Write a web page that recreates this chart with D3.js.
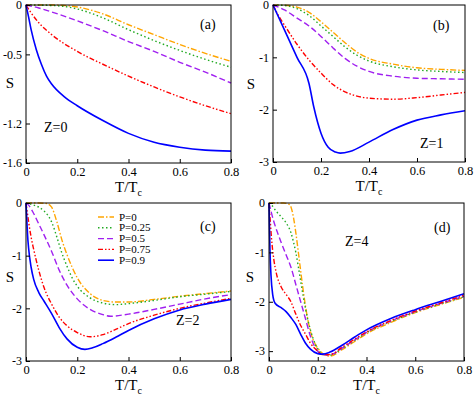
<!DOCTYPE html>
<html>
<head>
<meta charset="utf-8">
<script src="https://cdn.jsdelivr.net/npm/d3@7"></script>
<style>
  body { margin: 0; background: #fff; }
  text { font-family: "Liberation Serif", "Times New Roman", serif; fill: #000; }
</style>
</head>
<body>
<div id="chart"></div>
<script>
// legend entries / series order
let pLabels = ["P=0", "P=0.25", "P=0.5", "P=0.75", "P=0.9"];
let colors = ["#ffa500", "#22aa22", "#a020f0", "#ff0000", "#0000ff"];
let dashes = ["6,2,1.5,2", "1.5,2.5", "6,3", "5,2,1.5,2,1.5,2", null];

// panel (a) Z=0, [T/Tc, S]
let a_p0 = [[0,0],[0.1,0],[0.15,-0.005],[0.2,-0.02],[0.3,-0.09],[0.4,-0.2],[0.5,-0.3],[0.6,-0.4],[0.7,-0.49],[0.8,-0.57]];
let a_p25 = [[0,0],[0.1,-0.005],[0.15,-0.015],[0.2,-0.04],[0.3,-0.13],[0.4,-0.25],[0.5,-0.36],[0.6,-0.46],[0.7,-0.55],[0.8,-0.63]];
let a_p50 = [[0,0],[0.05,-0.03],[0.1,-0.07],[0.2,-0.16],[0.3,-0.26],[0.4,-0.37],[0.5,-0.47],[0.6,-0.58],[0.7,-0.68],[0.8,-0.79]];
let a_p75 = [[0,0],[0.02,-0.08],[0.05,-0.18],[0.1,-0.3],[0.2,-0.47],[0.3,-0.6],[0.4,-0.72],[0.5,-0.83],[0.6,-0.93],[0.7,-1.02],[0.8,-1.1]];
let a_p90 = [[0,0],[0.01,-0.12],[0.02,-0.25],[0.04,-0.45],[0.06,-0.6],[0.08,-0.72],[0.1,-0.8],[0.15,-0.93],[0.2,-1.02],[0.3,-1.17],[0.4,-1.3],[0.5,-1.39],[0.6,-1.44],[0.7,-1.47],[0.8,-1.48]];

// panel (b) Z=1
let b_p0 = [[0,0],[0.05,-0.005],[0.1,-0.04],[0.15,-0.14],[0.2,-0.32],[0.25,-0.52],[0.3,-0.72],[0.35,-0.9],[0.4,-1.02],[0.5,-1.13],[0.6,-1.2],[0.7,-1.23],[0.8,-1.25]];
let b_p25 = [[0,0],[0.05,-0.01],[0.1,-0.07],[0.15,-0.2],[0.2,-0.4],[0.25,-0.6],[0.3,-0.8],[0.35,-0.96],[0.4,-1.07],[0.5,-1.18],[0.6,-1.24],[0.7,-1.27],[0.8,-1.29]];
let b_p50 = [[0,0],[0.05,-0.1],[0.1,-0.25],[0.15,-0.4],[0.2,-0.6],[0.25,-0.82],[0.3,-1.02],[0.35,-1.17],[0.4,-1.27],[0.5,-1.36],[0.6,-1.4],[0.7,-1.41],[0.8,-1.42]];
let b_p75 = [[0,0],[0.02,-0.18],[0.05,-0.4],[0.1,-0.75],[0.15,-1.05],[0.2,-1.3],[0.25,-1.52],[0.3,-1.66],[0.35,-1.74],[0.4,-1.78],[0.5,-1.8],[0.6,-1.77],[0.7,-1.72],[0.8,-1.67]];
let b_p90 = [[0,0],[0.05,-0.5],[0.1,-1.0],[0.15,-1.5],[0.17,-1.95],[0.2,-2.45],[0.23,-2.72],[0.26,-2.81],[0.28,-2.83],[0.32,-2.8],[0.4,-2.62],[0.5,-2.38],[0.6,-2.2],[0.7,-2.1],[0.8,-2.02]];

// panel (c) Z=2
let c_p0 = [[0,0],[0.05,0],[0.08,-0.01],[0.1,-0.08],[0.12,-0.35],[0.14,-0.7],[0.16,-0.98],[0.18,-1.22],[0.2,-1.42],[0.25,-1.72],[0.3,-1.85],[0.35,-1.88],[0.4,-1.88],[0.5,-1.83],[0.6,-1.77],[0.7,-1.72],[0.8,-1.67]];
let c_p25 = [[0,0],[0.03,-0.04],[0.05,-0.08],[0.07,-0.15],[0.1,-0.36],[0.12,-0.64],[0.14,-0.95],[0.16,-1.2],[0.18,-1.42],[0.2,-1.58],[0.25,-1.8],[0.3,-1.9],[0.35,-1.93],[0.4,-1.91],[0.5,-1.85],[0.6,-1.78],[0.7,-1.73],[0.8,-1.68]];
let c_p50 = [[0,0],[0.01,-0.04],[0.03,-0.2],[0.05,-0.4],[0.07,-0.6],[0.1,-0.92],[0.13,-1.28],[0.16,-1.56],[0.2,-1.82],[0.25,-2.02],[0.3,-2.12],[0.33,-2.15],[0.4,-2.11],[0.5,-2.02],[0.6,-1.92],[0.7,-1.82],[0.8,-1.74]];
let c_p75 = [[0,0],[0.01,-0.35],[0.02,-0.65],[0.03,-0.88],[0.05,-1.28],[0.07,-1.6],[0.1,-1.92],[0.13,-2.17],[0.16,-2.33],[0.2,-2.46],[0.25,-2.54],[0.3,-2.5],[0.35,-2.4],[0.4,-2.29],[0.5,-2.13],[0.6,-2.0],[0.7,-1.9],[0.8,-1.81]];
let c_p90 = [[0,0],[0.003,-0.3],[0.006,-0.6],[0.01,-0.85],[0.02,-1.22],[0.03,-1.45],[0.05,-1.7],[0.07,-1.86],[0.1,-2.1],[0.13,-2.37],[0.16,-2.58],[0.2,-2.74],[0.23,-2.78],[0.26,-2.75],[0.3,-2.67],[0.35,-2.55],[0.4,-2.42],[0.5,-2.2],[0.6,-2.03],[0.7,-1.92],[0.8,-1.83]];

// panel (d) Z=4
let d_p0 = [[0,0],[0.06,0],[0.08,-0.02],[0.09,-0.08],[0.1,-0.28],[0.11,-0.6],[0.12,-0.98],[0.13,-1.38],[0.14,-1.76],[0.15,-2.1],[0.16,-2.38],[0.17,-2.6],[0.19,-2.86],[0.21,-3.0],[0.23,-3.08],[0.25,-3.1],[0.3,-2.97],[0.35,-2.81],[0.4,-2.65],[0.5,-2.42],[0.6,-2.22],[0.7,-2.06],[0.8,-1.91]];
let d_p25 = [[0,0],[0.01,-0.04],[0.03,-0.17],[0.05,-0.28],[0.07,-0.4],[0.09,-0.6],[0.1,-0.78],[0.11,-1.0],[0.12,-1.28],[0.13,-1.58],[0.14,-1.88],[0.15,-2.14],[0.16,-2.38],[0.17,-2.57],[0.19,-2.86],[0.21,-3.02],[0.23,-3.08],[0.25,-3.08],[0.3,-2.95],[0.35,-2.79],[0.4,-2.63],[0.5,-2.4],[0.6,-2.21],[0.7,-2.05],[0.8,-1.9]];
let d_p50 = [[0,0],[0.005,-0.1],[0.01,-0.2],[0.02,-0.38],[0.035,-0.6],[0.05,-0.8],[0.07,-1.05],[0.09,-1.3],[0.11,-1.65],[0.13,-2.0],[0.15,-2.35],[0.17,-2.7],[0.19,-2.93],[0.21,-3.04],[0.24,-3.08],[0.27,-3.04],[0.3,-2.94],[0.35,-2.78],[0.4,-2.62],[0.5,-2.39],[0.6,-2.2],[0.7,-2.04],[0.8,-1.89]];
let d_p75 = [[0,0],[0.005,-0.35],[0.01,-0.7],[0.02,-1.15],[0.03,-1.42],[0.05,-1.7],[0.07,-1.85],[0.09,-2.0],[0.11,-2.25],[0.13,-2.48],[0.15,-2.66],[0.17,-2.84],[0.2,-3.0],[0.22,-3.07],[0.25,-3.07],[0.3,-2.92],[0.35,-2.76],[0.4,-2.61],[0.5,-2.38],[0.6,-2.19],[0.7,-2.03],[0.8,-1.87]];
let d_p90 = [[0,0],[0.002,-0.5],[0.004,-0.95],[0.008,-1.45],[0.015,-1.85],[0.025,-2.03],[0.05,-2.12],[0.07,-2.2],[0.09,-2.32],[0.11,-2.46],[0.13,-2.66],[0.15,-2.84],[0.17,-2.96],[0.2,-3.05],[0.22,-3.06],[0.25,-3.02],[0.3,-2.88],[0.35,-2.72],[0.4,-2.57],[0.5,-2.34],[0.6,-2.16],[0.7,-2.0],[0.8,-1.84]];

let xTicks = [0, 0.2, 0.4, 0.6, 0.8];
let yTicksA = [0, -0.5, -1.2, -1.6];
let yTicksB = [0, -1, -2, -3];
let yTicksC = [0, -1, -2, -3];
let yTicksD = [0, -1, -2, -3];

let width = 474, height = 398;
let serif = "'Liberation Serif', 'Times New Roman', serif";

let panels = [
  {box: [26, 5, 231, 163], ydom: [-1.6, 0], yticks: yTicksA, series: [a_p0, a_p25, a_p50, a_p75, a_p90],
   tag: "(a)", tagPos: [200, 29], z: "Z=0", zPos: [44, 132], sPos: [10, 88]},
  {box: [273, 5, 465, 162], ydom: [-3, 0], yticks: yTicksB, series: [b_p0, b_p25, b_p50, b_p75, b_p90],
   tag: "(b)", tagPos: [433, 30], z: "Z=1", zPos: [420, 148], sPos: [251, 89]},
  {box: [26, 203, 231, 361], ydom: [-3, 0], yticks: yTicksC, series: [c_p0, c_p25, c_p50, c_p75, c_p90],
   tag: "(c)", tagPos: [200, 231], z: "Z=2", zPos: [176, 325], sPos: [10, 282]},
  {box: [269, 203, 464, 361], ydom: [-3.2, 0], yticks: yTicksD, series: [d_p0, d_p25, d_p50, d_p75, d_p90],
   tag: "(d)", tagPos: [434, 232], z: "Z=4", zPos: [345, 246], sPos: [250, 282]}
];

let svg = d3.select("#chart")
    .append("svg")
    .attr("width", width)
    .attr("height", height);

panels.forEach(function(p) {
    let [x0, y0, x1, y1] = p.box;
    let x = d3.scaleLinear().domain([0, 0.8]).range([x0, x1]);
    let y = d3.scaleLinear().domain(p.ydom).range([y1, y0]);

    let g = svg.append("g");

    let line = d3.line()
        .x(function(d) { return x(d[0]); })
        .y(function(d) { return y(d[1]); })
        .curve(d3.curveMonotoneX);

    p.series.forEach(function(s, i) {
        g.append("path")
            .datum(s)
            .attr("fill", "none")
            .attr("stroke", colors[i])
            .attr("stroke-width", i == 4 ? 1.6 : 1.4)
            .attr("stroke-dasharray", dashes[i])
            .attr("d", line);
    });

    // axes, ticks pointing inward
    g.append("g")
        .attr("transform", `translate(0, ${y1})`)
        .call(d3.axisBottom(x).tickValues(xTicks).tickSizeInner(-4).tickSizeOuter(0).tickPadding(4)
            .tickFormat(d => d == 0 ? "0" : d3.format(".1f")(d)))
        .attr("font-family", serif)
        .attr("font-size", 12.5)
        .call(ax => ax.select(".domain").remove());

    g.append("g")
        .attr("transform", `translate(${x0}, 0)`)
        .call(d3.axisLeft(y).tickValues(p.yticks).tickSizeInner(-4).tickSizeOuter(0).tickPadding(4)
            .tickFormat(d => d == 0 ? "0" : String(d)))
        .attr("font-family", serif)
        .attr("font-size", 12)
        .call(ax => ax.select(".domain").remove());

    g.append("rect")
        .attr("x", x0).attr("y", y0)
        .attr("width", x1 - x0).attr("height", y1 - y0)
        .attr("fill", "none")
        .attr("stroke", "#000")
        .attr("stroke-width", 1);

    // x label T/Tc
    let xl = g.append("text")
        .attr("x", (x0 + x1) / 2)
        .attr("y", y1 + 29)
        .style("text-anchor", "middle")
        .style("font-size", "15px");
    xl.append("tspan").text("T/T");
    xl.append("tspan").attr("dy", 4).style("font-size", "10px").text("c");

    g.append("text")
        .attr("x", p.sPos[0]).attr("y", p.sPos[1])
        .style("text-anchor", "middle")
        .style("font-size", "15px")
        .text("S");

    g.append("text")
        .attr("x", p.tagPos[0]).attr("y", p.tagPos[1])
        .style("font-size", "14px")
        .text(p.tag);

    g.append("text")
        .attr("x", p.zPos[0]).attr("y", p.zPos[1])
        .style("font-size", "14px")
        .text(p.z);
});

// legend in panel (c)
let legend = svg.append("g");
pLabels.forEach(function(lab, i) {
    let ly = 217 + i * 10.8;
    legend.append("line")
        .attr("x1", 98).attr("x2", 114)
        .attr("y1", ly).attr("y2", ly)
        .attr("stroke", colors[i])
        .attr("stroke-width", i == 4 ? 1.6 : 1.4)
        .attr("stroke-dasharray", dashes[i]);
    legend.append("text")
        .attr("x", 119).attr("y", ly + 3.5)
        .style("font-size", "11px")
        .text(lab);
});
</script>
</body>
</html>
